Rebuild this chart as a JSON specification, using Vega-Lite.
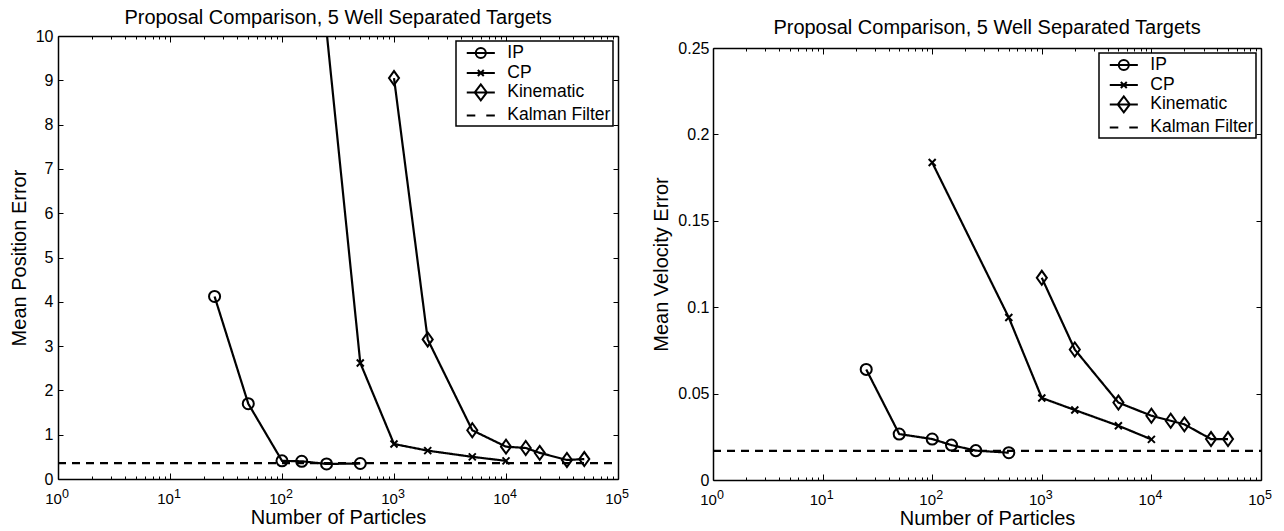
{
  "$schema": "https://vega.github.io/schema/vega-lite/v6.json",
  "padding": {"left": 9, "top": 8, "right": 0, "bottom": 0},
  "spacing": 22,
  "background": "white",
  "datasets": {
    "pos": [
      {"series": "IP", "n": 25, "v": 4.12},
      {"series": "IP", "n": 50, "v": 1.70},
      {"series": "IP", "n": 100, "v": 0.41},
      {"series": "IP", "n": 150, "v": 0.40},
      {"series": "IP", "n": 250, "v": 0.34},
      {"series": "IP", "n": 500, "v": 0.35},
      {"series": "CP", "n": 100, "v": 20.0},
      {"series": "CP", "n": 500, "v": 2.62},
      {"series": "CP", "n": 1000, "v": 0.79},
      {"series": "CP", "n": 2000, "v": 0.64},
      {"series": "CP", "n": 5000, "v": 0.50},
      {"series": "CP", "n": 10000, "v": 0.41},
      {"series": "Kinematic", "n": 1000, "v": 9.05},
      {"series": "Kinematic", "n": 2000, "v": 3.15},
      {"series": "Kinematic", "n": 5000, "v": 1.10},
      {"series": "Kinematic", "n": 10000, "v": 0.73},
      {"series": "Kinematic", "n": 15000, "v": 0.70},
      {"series": "Kinematic", "n": 20000, "v": 0.59},
      {"series": "Kinematic", "n": 35000, "v": 0.43},
      {"series": "Kinematic", "n": 50000, "v": 0.45},
      {"series": "Kalman Filter", "n": 1, "v": 0.36},
      {"series": "Kalman Filter", "n": 100000, "v": 0.36}
    ],
    "vel": [
      {"series": "IP", "n": 25, "v": 0.064},
      {"series": "IP", "n": 50, "v": 0.0266},
      {"series": "IP", "n": 100, "v": 0.0237},
      {"series": "IP", "n": 150, "v": 0.0202},
      {"series": "IP", "n": 250, "v": 0.0170},
      {"series": "IP", "n": 500, "v": 0.0158},
      {"series": "CP", "n": 100, "v": 0.1837},
      {"series": "CP", "n": 500, "v": 0.0940},
      {"series": "CP", "n": 1000, "v": 0.0475},
      {"series": "CP", "n": 2000, "v": 0.0405},
      {"series": "CP", "n": 5000, "v": 0.0314},
      {"series": "CP", "n": 10000, "v": 0.0235},
      {"series": "Kinematic", "n": 1000, "v": 0.117},
      {"series": "Kinematic", "n": 2000, "v": 0.0755},
      {"series": "Kinematic", "n": 5000, "v": 0.0448},
      {"series": "Kinematic", "n": 10000, "v": 0.0372},
      {"series": "Kinematic", "n": 15000, "v": 0.0343},
      {"series": "Kinematic", "n": 20000, "v": 0.0322},
      {"series": "Kinematic", "n": 35000, "v": 0.0237},
      {"series": "Kinematic", "n": 50000, "v": 0.0237},
      {"series": "Kalman Filter", "n": 1, "v": 0.0168},
      {"series": "Kalman Filter", "n": 100000, "v": 0.0168}
    ],
    "empty": []
  },
  "config": {
    "font": "Liberation Sans",
    "view": {"stroke": null},
    "axis": {
      "grid": false,
      "domainColor": "black",
      "domainWidth": 1.5,
      "tickColor": "black",
      "tickWidth": 1,
      "labelColor": "black",
      "labelFont": "Liberation Sans",
      "labelFontSize": 16,
      "labelFlush": false,
      "labelOverlap": false,
      "labelBound": false,
      "titleFont": "Liberation Sans",
      "titleFontSize": 20,
      "titleFontWeight": "normal",
      "titleColor": "black"
    },
    "title": {"font": "Liberation Sans", "fontSize": 20, "fontWeight": "normal", "color": "black", "offset": 8, "anchor": "middle"},
    "legend": {
      "orient": "top-right",
      "offset": 5,
      "strokeColor": "black",
      "strokeWidth": 1.5,
      "fillColor": "white",
      "padding": 2,
      "symbolOffset": 12.8,
      "symbolSize": 324,
      "symbolStrokeColor": "black",
      "symbolFillColor": "transparent",
      "symbolStrokeWidth": 2,
      "symbolOpacity": 1,
      "labelFont": "Liberation Sans",
      "labelFontSize": 17.5,
      "labelColor": "black",
      "labelOffset": 16.5,
      "rowPadding": -2.6
    }
  },
  "hconcat": [
    {
      "width": 560,
      "height": 443,
      "title": {"text": "Proposal Comparison, 5 Well Separated Targets", "offset": 0},
      "data": {"name": "pos"},
      "layer": [
        {
          "mark": {"type": "line", "clip": true, "color": "black", "strokeWidth": 2.2},
          "encoding": {
            "x": {"field": "n", "type": "quantitative", "scale": {"type": "log", "domain": [1, 100000], "nice": false},
              "axis": {"orient": "bottom", "title": "Number of Particles", "titlePadding": -2, "labelPadding": 18, "labelOffset": -5, "labelFontSize": 15,
                "values": [1,2,3,4,5,6,7,8,9,10,20,30,40,50,60,70,80,90,100,200,300,400,500,600,700,800,900,1000,2000,3000,4000,5000,6000,7000,8000,9000,10000,20000,30000,40000,50000,60000,70000,80000,90000,100000],
                "tickSize": {"condition": {"test": "indexof([1,10,100,1000,10000,100000], datum.value) >= 0", "value": -6}, "value": -3},
                "labelExpr": "indexof([1,10,100,1000,10000,100000], datum.value) >= 0 ? '10' : ''"}},
            "y": {"field": "v", "type": "quantitative", "scale": {"domain": [0, 10], "nice": false},
              "axis": {"orient": "left", "title": "Mean Position Error", "titlePadding": 6, "labelPadding": 10, "tickSize": -5, "values": [0,1,2,3,4,5,6,7,8,9,10]}},
            "strokeDash": {"field": "series", "type": "nominal", "scale": {"domain": ["IP", "CP", "Kinematic", "Kalman Filter"], "range": [[1, 0], [1, 0], [1, 0], [8, 6]]}, "legend": null}
          }
        },
        {
          "transform": [{"filter": "datum.series != 'Kalman Filter'"}],
          "mark": {"type": "point", "clip": true, "filled": false, "color": "black", "strokeWidth": 2, "size": 196, "opacity": 1},
          "encoding": {
            "x": {"field": "n", "type": "quantitative",
              "axis": {"orient": "top", "title": null, "labels": false,
                "values": [1,2,3,4,5,6,7,8,9,10,20,30,40,50,60,70,80,90,100,200,300,400,500,600,700,800,900,1000,2000,3000,4000,5000,6000,7000,8000,9000,10000,20000,30000,40000,50000,60000,70000,80000,90000,100000],
                "tickSize": {"condition": {"test": "indexof([1,10,100,1000,10000,100000], datum.value) >= 0", "value": -6}, "value": -3}}},
            "y": {"field": "v", "type": "quantitative",
              "axis": {"orient": "right", "title": null, "labels": false, "tickSize": -5, "values": [0,1,2,3,4,5,6,7,8,9,10]}},
            "shape": {"field": "series", "type": "nominal",
              "scale": {"domain": ["IP", "CP", "Kinematic"], "range": [
                "M-0.79,0A0.79,0.79,0,1,1,0.79,0A0.79,0.79,0,1,1,-0.79,0Z",
                "M-0.5,-0.5L0.5,0.5M-0.5,0.5L0.5,-0.5",
                "M-0.72,0L0,-1L0.72,0L0,1Z"]},
              "legend": null}
          }
        },
        {
          "mark": {"type": "point", "clip": true, "filled": false, "color": "black", "size": 0, "strokeWidth": 0},
          "encoding": {
            "x": {"field": "n", "type": "quantitative",
              "axis": {"orient": "bottom", "title": null, "domain": false, "tickOpacity": 0, "labelPadding": 14, "labelOffset": 7, "labelFontSize": 12.5,
                "values": [1, 10, 100, 1000, 10000, 100000],
                "tickSize": -6,
                "labelExpr": "'' + round(log(datum.value) / LN10)"}},
            "y": {"field": "v", "type": "quantitative", "axis": null},
            "shape": {"field": "series", "type": "nominal",
              "scale": {"domain": ["IP", "CP", "Kinematic", "Kalman Filter"], "range": [
                "M-1.56,0H1.56M-0.56,0A0.56,0.56,0,1,1,0.56,0A0.56,0.56,0,1,1,-0.56,0Z",
                "M-1.56,0H1.56M-0.33,-0.33L0.33,0.33M-0.33,0.33L0.33,-0.33",
                "M-1.56,0H1.56M-0.67,0L0,-0.89L0.67,0L0,0.89Z",
                "M-1.56,0H-0.61M0.61,0H1.56"]},
              "legend": {"title": null, "symbolStrokeWidth": 2, "symbolOpacity": 1, "symbolStrokeColor": "black", "labelExpr": "datum.label + '\u2003'"}}
          }
        }
      ],
      "resolve": {"scale": {"shape": "independent"}, "axis": {"x": "independent", "y": "independent"}}
    },
    {
      "spacing": 2,
      "vconcat": [
        {
          "width": 548,
          "height": 1,
          "title": {"text": "Proposal Comparison, 5 Well Separated Targets", "dy": 10},
          "data": {"name": "empty"},
          "mark": {"type": "point", "size": 0}
        },
        {
          "width": 548,
          "height": 432,
          "data": {"name": "vel"},
          "layer": [
            {
              "mark": {"type": "line", "clip": true, "color": "black", "strokeWidth": 2.2},
              "encoding": {
                "x": {"field": "n", "type": "quantitative", "scale": {"type": "log", "domain": [1, 100000], "nice": false},
                  "axis": {"orient": "bottom", "title": "Number of Particles", "titlePadding": -2, "labelPadding": 18, "labelOffset": -5, "labelFontSize": 15,
                    "values": [1,2,3,4,5,6,7,8,9,10,20,30,40,50,60,70,80,90,100,200,300,400,500,600,700,800,900,1000,2000,3000,4000,5000,6000,7000,8000,9000,10000,20000,30000,40000,50000,60000,70000,80000,90000,100000],
                    "tickSize": {"condition": {"test": "indexof([1,10,100,1000,10000,100000], datum.value) >= 0", "value": -6}, "value": -3},
                    "labelExpr": "indexof([1,10,100,1000,10000,100000], datum.value) >= 0 ? '10' : ''"}},
                "y": {"field": "v", "type": "quantitative", "scale": {"domain": [0, 0.25], "nice": false},
                  "axis": {"orient": "left", "title": "Mean Velocity Error", "titlePadding": 6, "labelPadding": 9, "tickSize": -5, "format": "~g", "values": [0, 0.05, 0.1, 0.15, 0.2, 0.25]}},
                "strokeDash": {"field": "series", "type": "nominal", "scale": {"domain": ["IP", "CP", "Kinematic", "Kalman Filter"], "range": [[1, 0], [1, 0], [1, 0], [8, 6]]}, "legend": null}
              }
            },
            {
              "transform": [{"filter": "datum.series != 'Kalman Filter'"}],
              "mark": {"type": "point", "clip": true, "filled": false, "color": "black", "strokeWidth": 2, "size": 196, "opacity": 1},
              "encoding": {
                "x": {"field": "n", "type": "quantitative",
                  "axis": {"orient": "top", "title": null, "labels": false,
                    "values": [1,2,3,4,5,6,7,8,9,10,20,30,40,50,60,70,80,90,100,200,300,400,500,600,700,800,900,1000,2000,3000,4000,5000,6000,7000,8000,9000,10000,20000,30000,40000,50000,60000,70000,80000,90000,100000],
                    "tickSize": {"condition": {"test": "indexof([1,10,100,1000,10000,100000], datum.value) >= 0", "value": -6}, "value": -3}}},
                "y": {"field": "v", "type": "quantitative",
                  "axis": {"orient": "right", "title": null, "labels": false, "tickSize": -5, "values": [0, 0.05, 0.1, 0.15, 0.2, 0.25]}},
                "shape": {"field": "series", "type": "nominal",
                  "scale": {"domain": ["IP", "CP", "Kinematic"], "range": [
                    "M-0.79,0A0.79,0.79,0,1,1,0.79,0A0.79,0.79,0,1,1,-0.79,0Z",
                    "M-0.5,-0.5L0.5,0.5M-0.5,0.5L0.5,-0.5",
                    "M-0.72,0L0,-1L0.72,0L0,1Z"]},
                  "legend": null}
              }
            },
            {
              "mark": {"type": "point", "clip": true, "filled": false, "color": "black", "size": 0, "strokeWidth": 0},
              "encoding": {
                "x": {"field": "n", "type": "quantitative",
                  "axis": {"orient": "bottom", "title": null, "domain": false, "tickOpacity": 0, "labelPadding": 14, "labelOffset": 7, "labelFontSize": 12.5,
                    "values": [1, 10, 100, 1000, 10000, 100000],
                    "tickSize": -6,
                    "labelExpr": "'' + round(log(datum.value) / LN10)"}},
                "y": {"field": "v", "type": "quantitative", "axis": null},
                "shape": {"field": "series", "type": "nominal",
                  "scale": {"domain": ["IP", "CP", "Kinematic", "Kalman Filter"], "range": [
                    "M-1.56,0H1.56M-0.56,0A0.56,0.56,0,1,1,0.56,0A0.56,0.56,0,1,1,-0.56,0Z",
                    "M-1.56,0H1.56M-0.33,-0.33L0.33,0.33M-0.33,0.33L0.33,-0.33",
                    "M-1.56,0H1.56M-0.67,0L0,-0.89L0.67,0L0,0.89Z",
                    "M-1.56,0H-0.61M0.61,0H1.56"]},
                  "legend": {"title": null, "symbolStrokeWidth": 2, "symbolOpacity": 1, "symbolStrokeColor": "black", "labelExpr": "datum.label + '\u2003'"}}
              }
            }
          ],
          "resolve": {"scale": {"shape": "independent"}, "axis": {"x": "independent", "y": "independent"}}
        }
      ]
    }
  ]
}
